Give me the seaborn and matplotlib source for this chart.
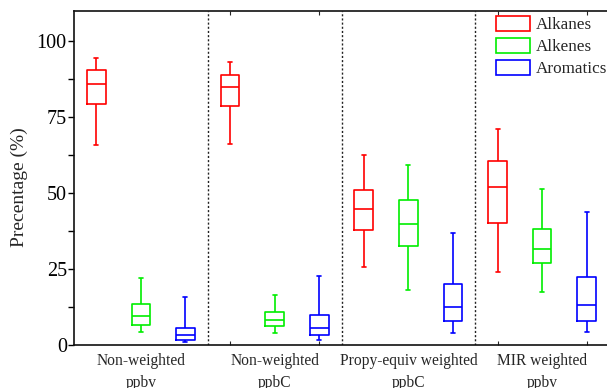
import numpy as np
import pandas as pd
import matplotlib
matplotlib.use("Agg")
import matplotlib.pyplot as plt
from matplotlib.patches import Patch
from matplotlib.ticker import FixedLocator, MultipleLocator
import seaborn as sns

# Weighting schemes (x categories) and compound classes (hue)
schemes = ["Non-weighted\nppbv", "Non-weighted\nppbC",
           "Propy-equiv weighted\nppbC", "MIR weighted\nppbv"]
classes = ["Alkanes", "Alkenes", "Aromatics"]
colors = ["#ff0000", "#00ee00", "#0000ff"]

# Five-number summaries per scheme: (min, q1, median, q3, max)
alkanes = [
    [65.9, 79.5, 86.0, 90.5, 94.4],
    [66.1, 78.7, 85.0, 89.0, 93.1],
    [25.6, 37.8, 44.8, 50.9, 62.6],
    [24.0, 40.1, 51.9, 60.5, 71.0],
]
alkenes = [
    [4.2, 6.6, 9.4, 13.6, 22.2],
    [3.8, 6.4, 8.3, 10.9, 16.6],
    [18.0, 32.7, 39.7, 47.6, 59.3],
    [17.3, 27.0, 31.7, 38.1, 51.3],
]
aromatics = [
    [0.9, 1.75, 3.4, 5.7, 15.7],
    [1.6, 3.2, 5.7, 9.8, 22.6],
    [3.95, 7.8, 12.6, 20.2, 36.8],
    [4.3, 7.9, 13.3, 22.4, 43.8],
]

rows = []
for cls, series in zip(classes, [alkanes, alkenes, aromatics]):
    for scheme, summary in zip(schemes, series):
        for v in summary:
            rows.append({"scheme": scheme, "class": cls, "pct": v})
df = pd.DataFrame(rows)

sns.set_theme(style="ticks")
plt.rcParams["font.family"] = ["Liberation Serif", "DejaVu Serif"]
plt.rcParams["mathtext.fontset"] = "stix"

fig = plt.figure(figsize=(6.07, 3.88), dpi=100)
ax = fig.add_axes([74 / 607, 1 - 345 / 388, 535 / 607, 334 / 388])

sns.boxplot(
    data=df, x="scheme", y="pct", hue="class",
    order=schemes, hue_order=classes, palette=colors,
    fill=False, width=1.0, gap=0.58, whis=(0, 100),
    linewidth=1.2, showfliers=False, capwidths=0.03,
    legend=False, ax=ax,
)

# Dotted separators between schemes
for xv in [0.5, 1.5, 2.5]:
    ax.axvline(xv, color="#222222", linestyle=(0, (1.5, 1.5)), linewidth=1.0)

ax.set_xlim(-0.5, 3.5)
ax.set_ylim(0, 110)
ax.set_xlabel("")
ax.set_ylabel("Precentage (%)", fontsize=14)
ax.yaxis.set_label_coords(-0.086, 0.473)

ax.yaxis.set_major_locator(FixedLocator([0, 25, 50, 75, 100]))
ax.yaxis.set_minor_locator(MultipleLocator(12.5))
ax.tick_params(axis="y", which="both", direction="out", length=4,
               width=1.0, labelsize=14.5, colors="black", pad=1.2)

ax.set_xticks(range(len(schemes)))
ax.set_xticklabels(schemes, fontsize=11.2, linespacing=1.5)
ax.xaxis.set_minor_locator(FixedLocator([0, 2 / 3, 4 / 3, 2, 8 / 3, 10 / 3]))
ax.tick_params(axis="x", which="major", length=0, pad=6)
ax.tick_params(axis="x", which="minor", direction="in", length=3,
               width=0.8, top=True, bottom=True)

for side in ["left", "bottom", "top", "right"]:
    ax.spines[side].set_visible(True)
    ax.spines[side].set_color("#111111")
    ax.spines[side].set_linewidth(1.2)

handles = [Patch(facecolor="none", edgecolor=c, linewidth=1.2, label=l)
           for c, l in zip(colors, classes)]
ax.legend(handles=handles, loc="upper left", bbox_to_anchor=(0.779, 1.0),
          frameon=False, fontsize=12.3, handlelength=2.0, handleheight=0.95,
          handletextpad=0.35, labelspacing=0.28, borderaxespad=0.0,
          borderpad=0.3)

fig.savefig("out.png", dpi=100)
